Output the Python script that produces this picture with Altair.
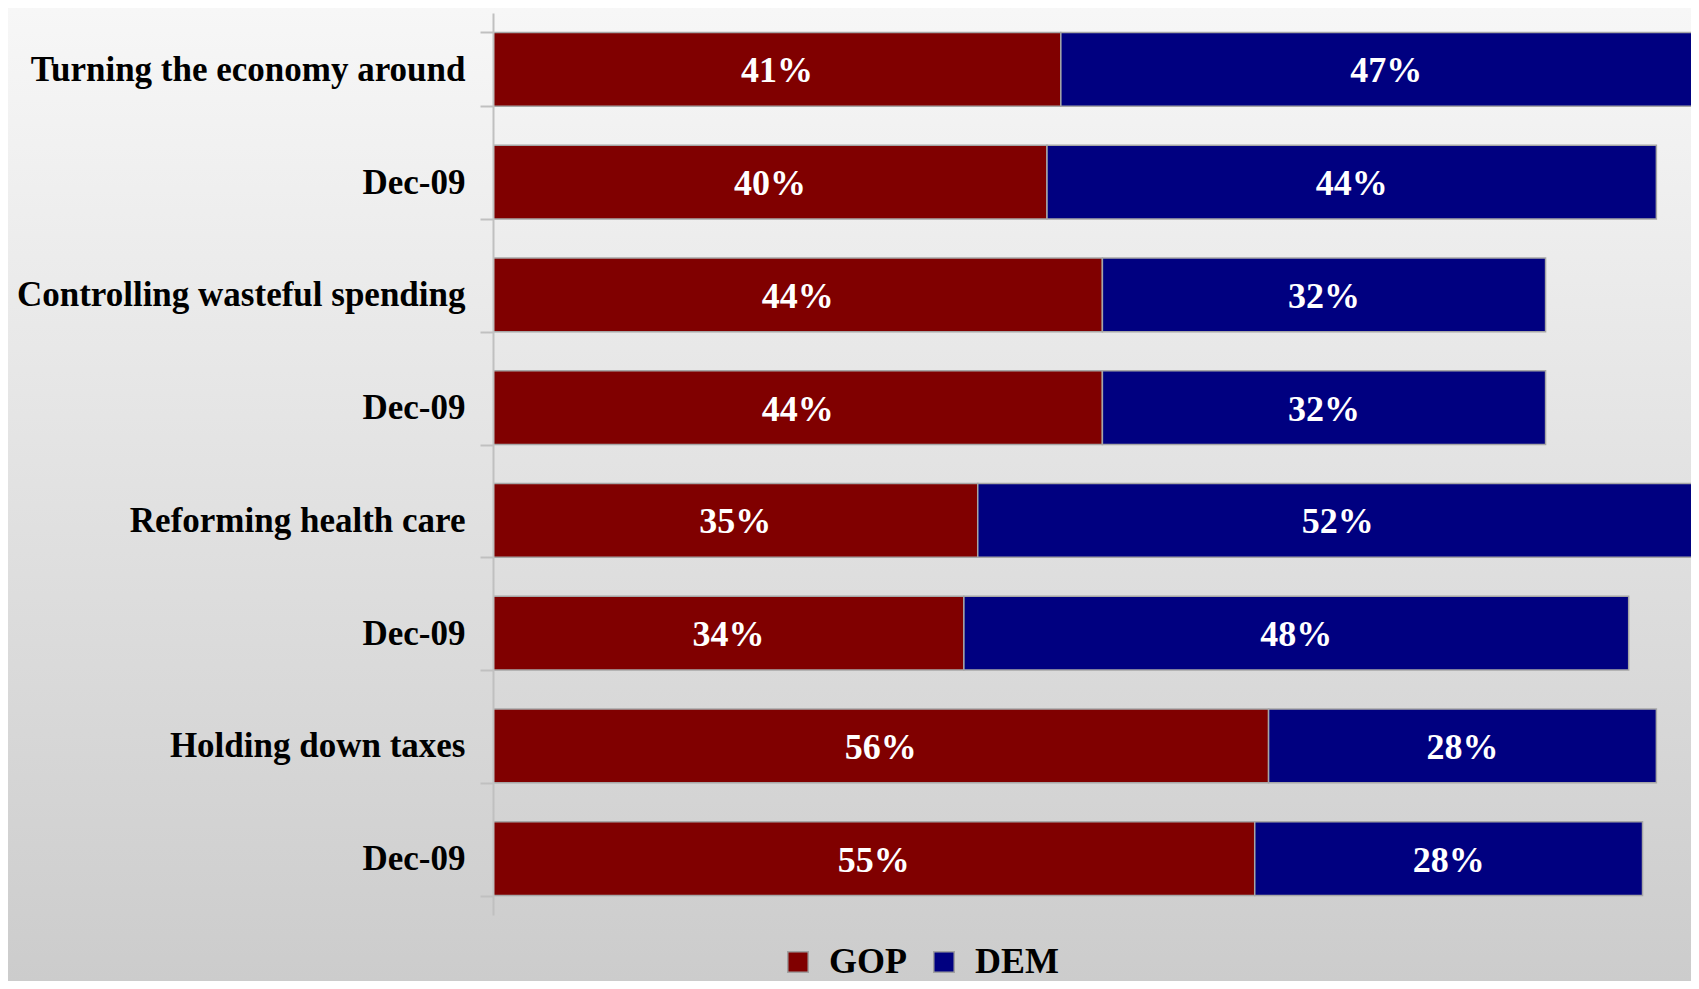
import json
import altair as alt
import pandas as pd

categories = ["Turning the economy around", "Dec-09", "Controlling wasteful spending", "Dec-09",
              "Reforming health care", "Dec-09", "Holding down taxes", "Dec-09"]
gop = [41, 40, 44, 44, 35, 34, 56, 55]
dem = [47, 44, 32, 32, 52, 48, 28, 28]
parties = ["GOP", "DEM"]
party_colors = ["#800000", "#000080"]

rows = []
for i, (g, d) in enumerate(zip(gop, dem)):
    rows.append({"row": i, "party": "GOP", "start": 0, "end": g, "mid": g / 2, "label": f"{g}%"})
    rows.append({"row": i, "party": "DEM", "start": g, "end": g + d, "mid": g + d / 2, "label": f"{d}%"})
df = pd.DataFrame(rows)

FONT = "Liberation Serif"
W, H = 1198, 902
PAD = {"left": 485, "top": 5, "right": 0, "bottom": 66}

label_expr = json.dumps(categories) + "[datum.value]"

xscale = alt.Scale(domain=[0, 86.5], nice=False, zero=True)
yscale = alt.Scale(paddingInner=0.344, paddingOuter=0.172)

bg = alt.Chart(alt.Data(values=[{"a": 1}])).mark_rect(
    color=alt.Gradient(
        gradient="linear",
        stops=[alt.GradientStop(offset=0, color="#f7f7f7"),
               alt.GradientStop(offset=1, color="#cccccc")],
        x1=0, x2=0, y1=0, y2=1,
    )
).encode(
    x=alt.value(-PAD["left"]), x2=alt.value(W + 10),
    y=alt.value(-PAD["top"]), y2=alt.value(H + PAD["bottom"]),
)

bars = alt.Chart(df).mark_bar(stroke="#a6a6a6", strokeWidth=1.5, clip=True).encode(
    y=alt.Y("row:O", scale=yscale, title=None,
            axis=alt.Axis(labelExpr=label_expr, labelFont=FONT, labelFontSize=35,
                          labelFontWeight="bold", labelColor="black", labelPadding=15,
                          tickBand="extent", tickSize=13, tickColor="#c0c0c0", tickWidth=2,
                          domainColor="#c0c0c0", domainWidth=2, labelLimit=600, zindex=1)),
    x=alt.X("start:Q", scale=xscale, axis=None),
    x2="end:Q",
    color=alt.Color("party:N", scale=alt.Scale(domain=parties, range=party_colors),
                    sort=parties,
                    legend=alt.Legend(orient="none", legendX=287, legendY=931, direction="horizontal",
                                      title=None, symbolType="square", symbolSize=420,
                                      symbolStrokeColor="#a0a0a0", symbolStrokeWidth=1.5,
                                      symbolOpacity=1, zindex=1,
                                      labelFont=FONT, labelFontSize=36, labelFontWeight="bold",
                                      labelColor="black", columnPadding=19, labelOffset=13,
                                      padding=0)),
)

text = alt.Chart(df).mark_text(color="white", font=FONT, fontSize=36, fontWeight="bold",
                               baseline="middle", align="center", dy=2).encode(
    y=alt.Y("row:O", scale=yscale),
    x=alt.X("mid:Q", scale=xscale),
    text="label:N",
)

chart = alt.layer(bg, bars, text).properties(
    width=W, height=H,
    autosize=alt.AutoSizeParams(type="none"),
    padding=PAD,
).configure(background="#f2f2f2").configure_view(stroke=None)

chart.save("out.html", embed_options={"renderer": "svg", "actions": False})
